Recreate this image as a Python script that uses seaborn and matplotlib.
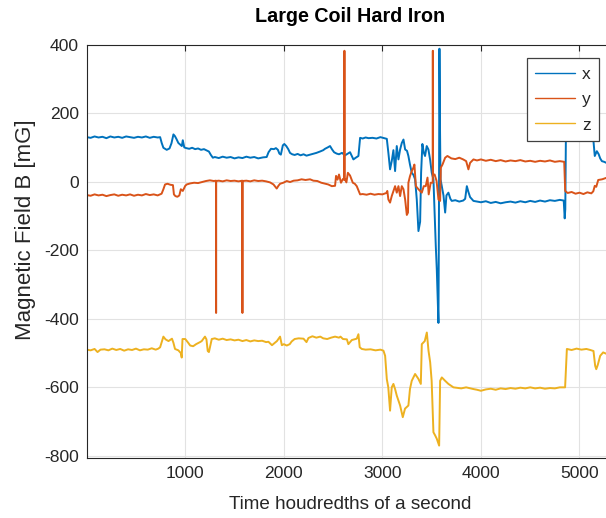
import matplotlib
matplotlib.use("Agg")
import matplotlib.pyplot as plt
import numpy as np
import pandas as pd
import seaborn as sns

# Magnetometer readings (mG) against time in hundredths of a second
t_x = [0, 40, 80, 120, 160, 200, 240, 280, 320, 360, 400, 440, 480, 520, 560, 600, 640, 680, 720, 745,
       761, 778, 795, 812, 840, 860, 880, 895, 910, 930, 950, 965, 975, 990, 1010, 1040, 1070, 1100, 1130,
       1160, 1190, 1220, 1240, 1260, 1280, 1300, 1340, 1380, 1420, 1460, 1500, 1540, 1580, 1620, 1660,
       1700, 1740, 1790, 1826, 1845, 1870, 1900, 1920, 1940, 1955, 1970, 1990, 2005, 2025, 2045, 2063,
       2085, 2110, 2140, 2170, 2200, 2230, 2266, 2300, 2330, 2367, 2400, 2418, 2445, 2469, 2490, 2510,
       2536, 2560, 2590, 2622, 2650, 2672, 2690, 2706, 2730, 2757, 2774, 2800, 2830, 2860, 2900, 2940,
       2980, 3020, 3045, 3061, 3078, 3095, 3112, 3129, 3146, 3163, 3180, 3197, 3214, 3231, 3250, 3264,
       3280, 3298, 3315, 3332, 3349, 3366, 3383, 3393, 3406, 3420, 3433, 3450, 3467, 3484, 3501, 3518,
       3535, 3542, 3552, 3569, 3574, 3579, 3585, 3590, 3603, 3620, 3637, 3650, 3670, 3690, 3704, 3740,
       3780, 3820, 3840, 3857, 3873, 3890, 3924, 3960, 4000, 4050, 4100, 4150, 4200, 4250, 4300, 4350,
       4400, 4450, 4500, 4550, 4600, 4650, 4700, 4750, 4800, 4840, 4850, 4856, 4862, 4900, 4950, 5000,
       5050, 5100, 5142, 5155, 5176, 5195, 5210, 5227, 5250, 5280, 5310, 5340]
b_x = [130, 128, 132, 129, 131, 127, 132, 129, 131, 128, 132, 130, 128, 131, 129, 132, 128, 131, 129, 130,
       113, 99, 96, 93, 97, 112, 138, 133, 125, 113, 108, 104, 121, 100, 98, 96, 99, 95, 97,
       93, 95, 91, 88, 78, 70, 72, 69, 73, 70, 72, 68, 71, 69, 73, 70,
       72, 68, 71, 72, 86, 96, 95, 98, 93, 82, 79, 106, 110, 104, 95, 84,
       80, 78, 81, 77, 80, 76, 79, 82, 84, 88, 92, 96, 100, 104, 94, 86,
       82, 80, 84, 77, 82, 86, 75, 65, 70, 75, 128, 126, 129, 127, 128, 126,
       130, 127, 125, 84, 36, 60, 92, 31, 104, 65, 94, 113, 123, 94, 90, 75,
       50, 26, 20, 7, -52, -144, -117, 26, 110, 85, 75, 104, 94, 65, 26, 7,
       -129, -188, -255, -412, -100, 388, 150, 7, -13, -40, -90, -40, -32, -50, -56, -54,
       -58, -55, -50, -13, -30, -45, -56, -58, -60, -57, -62, -59, -63, -60, -58, -61,
       -57, -60, -56, -59, -55, -58, -54, -56, -53, -55, -107, -80, 130, 132, 129, 133,
       130, 132, 118, 75, 89, 80, 68, 60, 58, 54, 52, 50]

t_y = [0, 40, 80, 120, 160, 200, 240, 280, 320, 360, 400, 440, 480, 520, 560, 600, 640, 680, 720, 760,
       778, 795, 820, 850, 875, 885, 900, 920, 940, 955, 975, 1000, 1015, 1050, 1090, 1130, 1170, 1210,
       1250, 1290, 1312, 1313, 1314, 1340, 1380, 1420, 1460, 1500, 1540, 1579, 1580, 1581, 1620, 1660,
       1700, 1740, 1780, 1820, 1860, 1895, 1928, 1945, 1962, 1995, 2030, 2063, 2100, 2140, 2180, 2220,
       2266, 2300, 2340, 2380, 2420, 2450, 2487, 2520, 2530, 2545, 2560, 2580, 2600, 2614, 2615, 2616,
       2635, 2650, 2672, 2700, 2720, 2740, 2774, 2800, 2840, 2880, 2920, 2960, 3000, 3040, 3050, 3061,
       3078, 3095, 3112, 3129, 3146, 3163, 3180, 3197, 3214, 3231, 3248, 3260, 3264, 3280, 3298, 3315,
       3325, 3340, 3366, 3383, 3400, 3420, 3440, 3458, 3470, 3490, 3511, 3512, 3513, 3530, 3550, 3569,
       3586, 3593, 3610, 3637, 3660, 3700, 3740, 3780, 3820, 3850, 3873, 3890, 3924, 3960, 4000, 4050,
       4100, 4150, 4200, 4250, 4300, 4350, 4400, 4450, 4500, 4550, 4600, 4650, 4700, 4750, 4800, 4845,
       4855, 4880, 4920, 4960, 5000, 5040, 5080, 5120, 5140, 5155, 5170, 5190, 5230, 5280, 5340]
b_y = [-39, -41, -37, -40, -38, -42, -39, -37, -41, -38, -40, -37, -41, -38, -40, -36, -39, -37, -40, -35,
       -22, -8, -6, -9, -10, -37, -42, -44, -40, -22, -27, -12, -8, -5, -3, -4, -1, 2,
       4, 2, 3, -383, 2, 3, 1, 4, 2, 3, 1, 3, -383, 2, 3, 1,
       4, 2, 3, 1, -2, -8, -20, -12, -6, -3, 2, -1, 3, 4, 7, 5,
       7, 3, 2, -3, -6, -8, -13, -12, 17, 6, 21, -3, 8, 5, 382, 10,
       -2, 26, 18, -3, -6, -13, -37, -36, -38, -35, -38, -36, -37, -33, -27, -52,
       -61, -42, -27, -13, -32, -13, -42, -13, -22, -52, -97, -90, -3, 16, 31, 41,
       50, -13, -22, -27, -32, -13, -13, 12, -37, -3, -3, 382, 21, 21, 2, -52,
       -56, 41, 50, 70, 75, 68, 66, 70, 65, 60, 36, 55, 65, 62, 65, 61,
       64, 60, 63, 59, 62, 60, 63, 59, 61, 58, 61, 59, 62, 58, 60, 58,
       -27, -33, -30, -35, -32, -36, -31, -34, -28, -12, -15, 5, 7, 12, 12]

t_z = [0, 40, 80, 110, 140, 180, 220, 260, 300, 340, 380, 420, 460, 500, 540, 580, 620, 660, 700, 727,
       745, 778, 800, 830, 865, 880, 896, 930, 955, 964, 972, 1000, 1030, 1050, 1080, 1110, 1150, 1167,
       1200, 1215, 1228, 1240, 1269, 1300, 1340, 1380, 1420, 1460, 1500, 1540, 1580, 1620, 1660, 1700,
       1740, 1780, 1820, 1844, 1880, 1910, 1930, 1962, 1980, 2000, 2030, 2060, 2080, 2110, 2150, 2200,
       2230, 2250, 2290, 2330, 2370, 2400, 2440, 2480, 2520, 2560, 2575, 2600, 2640, 2655, 2690, 2740,
       2757, 2770, 2791, 2830, 2880, 2930, 2980, 3011, 3028, 3045, 3060, 3078, 3095, 3112, 3129, 3146,
       3180, 3207, 3230, 3264, 3280, 3298, 3332, 3365, 3390, 3400, 3430, 3451, 3468, 3485, 3500, 3518,
       3535, 3552, 3576, 3586, 3603, 3637, 3670, 3721, 3800, 3850, 3924, 3960, 4000, 4050, 4100, 4150,
       4200, 4250, 4300, 4350, 4400, 4450, 4500, 4550, 4600, 4650, 4700, 4750, 4800, 4854, 4872, 4920,
       4970, 5020, 5070, 5110, 5142, 5159, 5170, 5185, 5210, 5240, 5280, 5340]
b_z = [-490, -492, -488, -497, -490, -489, -492, -487, -491, -488, -493, -489, -491, -487, -492, -489, -490,
       -486, -490, -487,
       -483, -452, -460, -465, -458, -470, -488, -492, -500, -513, -459, -459, -470, -478, -480, -474,
       -468, -465,
       -452, -460, -494, -497, -459, -457, -461, -458, -462, -460, -463, -461, -465, -462, -466, -463,
       -465, -464, -468, -467, -477, -470, -465, -452, -477, -474, -478, -474, -466, -459, -457, -458,
       -468, -456, -451, -455, -452, -457, -459, -455, -452, -455, -452, -459, -460, -474, -462, -458,
       -445, -483, -488, -490, -489, -492, -490, -493, -508, -576, -600, -668, -600, -590, -605, -624,
       -653, -687, -662, -653, -605, -581, -561, -575, -590, -474, -465, -440, -493, -527, -581, -731,
       -740, -750, -770, -581, -571, -581, -590, -600, -603, -600, -605, -607, -610, -606, -604, -607,
       -603, -605, -602, -604, -601, -603, -600, -603, -601, -604, -602, -603, -600, -600, -488, -491,
       -487, -490, -488, -491, -494, -537, -547, -535, -508, -498, -503, -500]

series_names = ["x", "y", "z"]
series_colors = ["#0072BD", "#D95319", "#EDB120"]

df = pd.concat([
    pd.DataFrame({"t": t_x, "B": b_x, "axis": "x"}),
    pd.DataFrame({"t": t_y, "B": b_y, "axis": "y"}),
    pd.DataFrame({"t": t_z, "B": b_z, "axis": "z"}),
], ignore_index=True)

sns.set_theme(style="whitegrid")
plt.rcParams["font.family"] = ["Liberation Sans", "DejaVu Sans"]
plt.rcParams["axes.unicode_minus"] = False

W, H = 606, 518
fig = plt.figure(figsize=(W / 100, H / 100), dpi=100)
left, right, top, bottom = 86.7, 613.0, 44.6, 458.3
ax = fig.add_axes([left / W, 1 - bottom / H, (right - left) / W, (bottom - top) / H])

sns.lineplot(data=df, x="t", y="B", hue="axis", hue_order=series_names,
             palette=dict(zip(series_names, series_colors)),
             estimator=None, sort=False, linewidth=1.4, ax=ax)

ax.set_xlim(0, 5340)
ax.set_ylim(-807, 400)
ax.set_xticks([1000, 2000, 3000, 4000, 5000])
ax.set_yticks([-800, -600, -400, -200, 0, 200, 400])

ax.grid(True, color="#e2e2e2", linewidth=0.8)
for s in ax.spines.values():
    s.set_color("#262626")
    s.set_linewidth(0.8)
ax.tick_params(axis="both", direction="in", length=4, width=0.8, color="#262626",
               labelsize=12.6, labelcolor="#262626", top=True, right=False)
ax.tick_params(axis="x", pad=5.5)
ax.tick_params(axis="y", pad=5.5)

ax.set_title("Large Coil Hard Iron", fontsize=14.2, fontweight="bold", pad=16, color="black")
ax.set_xlabel("Time houdredths of a second", fontsize=13.6, color="#262626", labelpad=10.5)
ax.set_ylabel("Magnetic Field B [mG]", fontsize=16, color="#262626", labelpad=6)
ax.yaxis.label.set_y(0.552)

handles, labels = ax.get_legend_handles_labels()
for h in handles:
    h.set_linewidth(1.0)
leg = ax.legend(handles, labels, loc="upper right", bbox_to_anchor=(0.974, 0.967),
                borderaxespad=0, fontsize=12.5, handlelength=2.3, handletextpad=0.38,
                borderpad=0.5, labelspacing=0.58, fancybox=False, framealpha=1, title=None)
leg.get_frame().set_edgecolor("#404040")
leg.get_frame().set_linewidth(0.9)

fig.savefig("out.png", dpi=100)
